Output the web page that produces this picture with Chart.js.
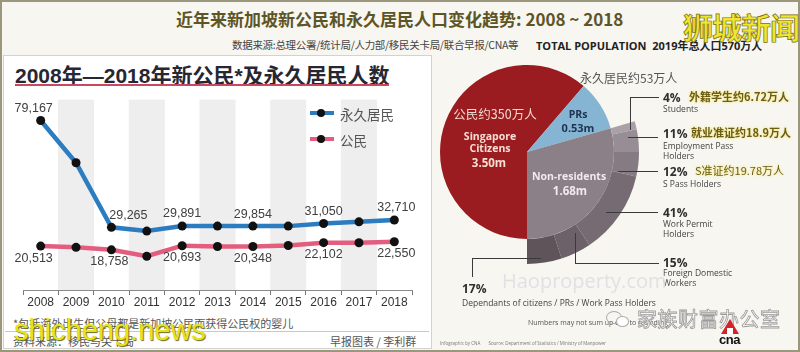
<!DOCTYPE html>
<html>
<head>
<meta charset="utf-8">
<script src="https://cdn.jsdelivr.net/npm/chart.js@4"></script>
<style>
  html, body { margin: 0; padding: 0; }
  body {
    width: 800px; height: 352px; overflow: hidden; position: relative;
    background: #f7f6f0;
    font-family: "Noto Sans CJK SC", "Liberation Sans", sans-serif;
  }
  .abs { position: absolute; white-space: nowrap; }
  .c { transform: translate(-50%, -50%); }
  .frame { position: absolute; left: 0; top: 0; width: 796px; height: 348px; border: 2px solid #9a977c; }
  .panel { position: absolute; left: 3px; top: 55px; width: 427px; height: 292px; background: #fff; border: 1px solid #d2d2d2; }
  .pct { font: bold 12px "Open Sans", "Liberation Sans", sans-serif; color: #2e2e2e; }
  .cat { font: 8.5px "Open Sans", "Liberation Sans", sans-serif; color: #444; line-height: 10px; }
  .cn { font: bold 11px "Noto Sans CJK SC", sans-serif; color: #6e5d14; text-shadow: 0 0 3px #f1e78a, 0 0 2px #f1e78a; }
  .lead { position: absolute; border-color: #3a3a3a; border-style: solid; border-width: 0; }
</style>
</head>
<body>
<div class="frame"></div>

<div class="abs" style="left:176px; top:6px; font: bold 17px 'Noto Sans CJK SC', sans-serif; color:#5e5526;">近年来新加坡新公民和永久居民人口变化趋势: 2008 ~ 2018</div>
<div class="abs" style="left:232px; top:37px; font: 10.5px 'Noto Sans CJK SC', sans-serif; color:#444; letter-spacing:-0.3px;">数据来源:总理公署/统计局/人力部/移民关卡局/联合早报/CNA等</div>
<div class="abs" style="left:536px; top:37px; font: bold 11px 'Open Sans', 'Noto Sans CJK SC', sans-serif; color:#222;">TOTAL POPULATION&nbsp; 2019年总人口570万人</div>

<div class="panel"></div>
<div class="abs" style="left:15px; top:59px; font: bold 21px 'Liberation Sans', 'Noto Sans CJK SC', sans-serif; color:#272733;">2008年—2018年新公民*及永久居民人数</div>
<div class="abs" style="left:15px; top:84px; width:374px; height:1.5px; background:#c9485f;"></div>

<canvas id="lineChart" class="abs" style="left:5px; top:95px;" width="420" height="215"></canvas>

<!-- legend -->
<div class="abs" style="left:310px; top:111px; width:24px; height:4px; background:#2c7cc0;"></div>
<div class="abs" style="left:317px; top:109px; width:8px; height:8px; border-radius:50%; background:#111;"></div>
<div class="abs" style="left:340px; top:104px; font: 13.5px 'Noto Sans CJK SC', sans-serif; color:#555;">永久居民</div>
<div class="abs" style="left:310px; top:137px; width:24px; height:4px; background:#e35d7f;"></div>
<div class="abs" style="left:317px; top:135px; width:8px; height:8px; border-radius:50%; background:#111;"></div>
<div class="abs" style="left:340px; top:130px; font: 13.5px 'Noto Sans CJK SC', sans-serif; color:#555;">公民</div>

<div class="abs" style="left:13px; top:315px; font: 11px 'Noto Sans CJK SC', sans-serif; color:#555;">*包括海外出生但父母都是新加坡公民而获得公民权的婴儿</div>
<div class="abs" style="left:5px; top:331px; width:424px; height:1px; background:#c8c8c8;"></div>
<div class="abs" style="left:13px; top:333px; font: 11px 'Noto Sans CJK SC', sans-serif; color:#555;">资料来源：移民与关卡局</div>
<div class="abs" style="left:330px; top:333px; font: 11px 'Noto Sans CJK SC', sans-serif; color:#555;">早报图表 / 李利群</div>
<div class="abs" style="left:14px; top:314px; font: 29px 'Liberation Sans', sans-serif; color:#e7e21c; text-shadow: 1px 1px 1px #6b6a22;">shicheng.news</div>

<!-- pie -->
<canvas id="pieChart" class="abs" style="left:415px; top:40px;" width="224" height="224"></canvas>

<div class="abs c" style="left:495px; top:113px; font: 12.5px 'Noto Sans CJK SC', serif; color:#f4d8cf;">公民约350万人</div>
<div class="abs c" style="left:490px; top:136px; font: bold 10.5px 'Open Sans', sans-serif; color:#f7ddd3;">Singapore</div>
<div class="abs c" style="left:490px; top:148px; font: bold 10.5px 'Open Sans', sans-serif; color:#f7ddd3;">Citizens</div>
<div class="abs c" style="left:489px; top:162px; font: bold 11.5px 'Open Sans', sans-serif; color:#f7ddd3;">3.50m</div>
<div class="abs c" style="left:578px; top:114px; font: bold 10.5px 'Open Sans', sans-serif; color:#1d3350;">PRs</div>
<div class="abs c" style="left:578px; top:127px; font: bold 11px 'Open Sans', sans-serif; color:#1d3350;">0.53m</div>
<div class="abs c" style="left:569px; top:176px; font: bold 10.5px 'Open Sans', sans-serif; color:#f1e9ef;">Non-residents</div>
<div class="abs c" style="left:570px; top:190px; font: bold 11.5px 'Open Sans', sans-serif; color:#f1e9ef;">1.68m</div>
<div class="abs" style="left:580px; top:69px; font: 12px 'Noto Sans CJK SC', serif; color:#555;">永久居民约53万人</div>

<!-- leader lines -->
<div class="lead" style="left:630px; top:97px; width:28px; height:32px; border-left-width:1.5px; border-top-width:1.5px;"></div>
<div class="lead" style="left:628px; top:137px; width:30px; border-top-width:1.5px;"></div>
<div class="lead" style="left:618px; top:171px; width:40px; border-top-width:1.5px;"></div>
<div class="lead" style="left:606px; top:212px; width:52px; border-top-width:1.5px;"></div>
<div class="lead" style="left:575px; top:233px; width:83px; height:30px; border-left-width:1.5px; border-bottom-width:1.5px;"></div>
<div class="lead" style="left:472px; top:258px; width:68px; height:18px; border-left-width:1.5px; border-top-width:1.5px;"></div>

<div class="abs pct" style="left:663px; top:89px;">4%</div>
<div class="abs cn" style="left:689px; top:88px;">外籍学生约6.72万人</div>
<div class="abs cat" style="left:663px; top:104px;">Students</div>

<div class="abs pct" style="left:663px; top:125px;">11%</div>
<div class="abs cn" style="left:691px; top:124px;">就业准证约18.9万人</div>
<div class="abs cat" style="left:663px; top:141px;">Employment Pass<br>Holders</div>

<div class="abs pct" style="left:663px; top:163px;">12%</div>
<div class="abs cn" style="left:695px; top:162px; font-weight:normal;">S准证约19.78万人</div>
<div class="abs cat" style="left:663px; top:179px;">S Pass Holders</div>

<div class="abs pct" style="left:663px; top:204px;">41%</div>
<div class="abs cat" style="left:663px; top:219px;">Work Permit<br>Holders</div>

<div class="abs pct" style="left:663px; top:254px;">15%</div>
<div class="abs cat" style="left:663px; top:268px;">Foreign Domestic<br>Workers</div>

<div class="abs" style="left:502px; top:267px; font: 20px 'Open Sans', sans-serif; color:#e3e0e5;">Haoproperty.com</div>
<div class="abs pct" style="left:462px; top:280px;">17%</div>
<div class="abs cat" style="left:462px; top:298px;">Dependants of citizens / PRs / Work Pass Holders</div>
<div class="abs" style="left:528px; top:318px; font: 7px 'Open Sans', sans-serif; color:#555;">Numbers may not sum up due to rounding</div>
<div class="abs" style="left:440px; top:340px; font: 4.5px 'Open Sans', sans-serif; color:#777;">Infographic by CNA &nbsp;&nbsp;&nbsp;&nbsp;&nbsp; Source: Department of Statistics / Ministry of Manpower</div>

<div class="abs" style="left:606px; top:311px; width:14px; height:11px; border:1px solid #aaa; border-radius:50%;"></div>
<div class="abs" style="left:616px; top:316px; width:11px; height:9px; border:1px solid #aaa; border-radius:50%; background:#fff;"></div>
<div class="abs" style="left:637px; top:304px; font: 20px 'Noto Sans CJK SC', sans-serif; color:#fff; -webkit-text-stroke: 0.8px #9a9a9a; letter-spacing:0.5px;">家族财富办公室</div>

<div class="abs" style="left:721px; top:319px; width:0; height:0; border-left:9px solid transparent; border-right:9px solid transparent; border-bottom:15px solid #d2232a;"></div>
<div class="abs" style="left:727px; top:328px; width:6px; height:6px; background:#fff;"></div>
<div class="abs" style="left:719px; top:332px; font: bold 13px 'Liberation Sans', sans-serif; color:#111; letter-spacing:-0.5px;">cna</div>

<div class="abs" style="left:683px; top:4px; font: bold 30px 'Noto Sans CJK SC', sans-serif; color:#efe62e; -webkit-text-stroke: 0.7px #7c6c1c; letter-spacing:-1px;">狮城新闻</div>

<script>
// line chart data (new PRs / new citizens per year)
const years = ["2008", "2009", "2010", "2011", "2012", "2013", "2014", "2015", "2016", "2017", "2018"];
const prCounts = [79167, 59460, 29265, 27521, 29891, 29869, 29854, 29842, 31050, 31849, 32710];
const citizenCounts = [20513, 19928, 18758, 15777, 20693, 20340, 20348, 20815, 22102, 22076, 22550];
const labelledYears = [0, 2, 4, 6, 8, 10];
const yMax = 89000;

// pie data (millions) and non-resident breakdown (%)
const residentGroups = ["Singapore Citizens", "PRs", "Non-residents"];
const residentMillions = [3.5, 0.53, 1.68];
const nonResGroups = ["Students", "Employment Pass Holders", "S Pass Holders", "Work Permit Holders", "Foreign Domestic Workers", "Dependants"];
const nonResShares = [4, 11, 12, 41, 15, 17];

Chart.defaults.animation = false;

// number labels above / below selected points
const valueLabels = {
  id: "valueLabels",
  afterDatasetsDraw(chart) {
    const { ctx } = chart;
    ctx.save();
    ctx.font = "12.5px 'Liberation Sans', Arial, sans-serif";
    ctx.fillStyle = "#404040";
    ctx.textAlign = "center";
    ctx.textBaseline = "middle";
    chart.data.datasets.forEach((ds, di) => {
      if (!ds.labelDy) return;
      const meta = chart.getDatasetMeta(di);
      labelledYears.forEach((i) => {
        const pt = meta.data[i];
        const dx = (ds.labelDx && ds.labelDx[i]) || 0;
        ctx.fillText(ds.data[i].toLocaleString("en-US"), pt.x + dx, pt.y + ds.labelDy);
      });
    });
    ctx.restore();
  },
};

new Chart(document.getElementById("lineChart"), {
  data: {
    labels: years,
    datasets: [
      {
        type: "line",
        label: "永久居民",
        data: prCounts,
        borderColor: "#2c7cc0",
        borderWidth: 4.5,
        pointRadius: 4.5,
        pointBackgroundColor: "#111",
        pointBorderWidth: 0,
        tension: 0,
        order: 1,
        labelDy: -12,
        labelDx: { 0: -7, 2: 17, 10: 2 },
      },
      {
        type: "line",
        label: "公民",
        data: citizenCounts,
        borderColor: "#e35d7f",
        borderWidth: 4.5,
        pointRadius: 4.5,
        pointBackgroundColor: "#111",
        pointBorderWidth: 0,
        tension: 0,
        order: 2,
        labelDy: 12,
        labelDx: { 0: -7, 2: -2, 10: 2 },
      },
      {
        type: "bar",
        label: "bands",
        data: years.map((y, i) => (i % 2 ? yMax : null)),
        backgroundColor: "#eeeeee",
        barPercentage: 1,
        categoryPercentage: 1,
        order: 3,
      },
    ],
  },
  options: {
    responsive: false,
    events: [],
    layout: { padding: { left: 18, right: 13, top: 4, bottom: 0 } },
    plugins: { legend: { display: false }, tooltip: { enabled: false } },
    scales: {
      x: {
        offset: true,
        grid: { offset: true, drawOnChartArea: false, tickLength: 5, color: "#777", lineWidth: 1 },
        border: { display: true, color: "#8a8a8a" },
        ticks: { padding: 0, color: "#333", font: { family: "Liberation Sans", size: 12 } },
        afterFit: (s) => { s.height = 20; },
      },
      y: { display: false, min: 0, max: yMax },
    },
  },
  plugins: [valueLabels],
});

// outer ring: non-resident breakdown sits over the non-resident wedge
const ringValues = [residentMillions[0], residentMillions[1]].concat(
  nonResShares.map((p) => (residentMillions[2] * p) / 100)
);

new Chart(document.getElementById("pieChart"), {
  type: "pie",
  data: {
    labels: residentGroups.slice(0, 2).concat(nonResGroups),
    datasets: [
      {
        data: ringValues,
        backgroundColor: ["rgba(0,0,0,0)", "rgba(0,0,0,0)", "#aaa1a8", "#978d94", "#857b82", "#766b72", "#6c6168", "#5e545a"],
        borderWidth: 0,
        weight: 25,
      },
      {
        data: residentMillions,
        backgroundColor: ["#9a1c20", "#86b5d3", "#8b7f88"],
        borderWidth: 0,
        weight: 87,
      },
    ],
  },
  options: {
    responsive: false,
    events: [],
    rotation: 180,
    plugins: { legend: { display: false }, tooltip: { enabled: false } },
  },
});
</script>
</body>
</html>
